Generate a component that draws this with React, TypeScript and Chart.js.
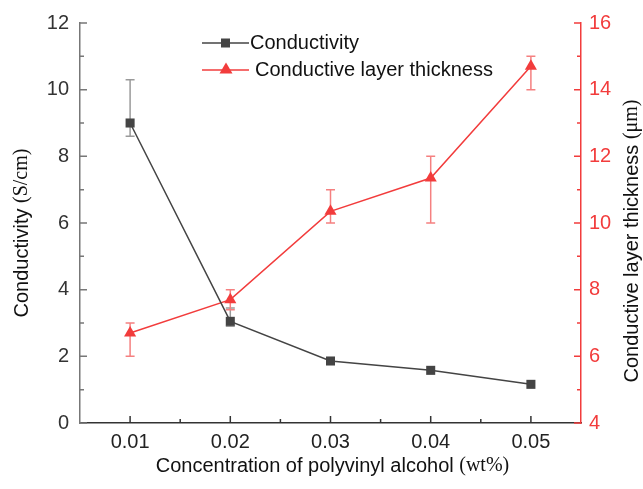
import React, { useEffect, useRef } from "react";
import { Chart, registerables } from "chart.js";

Chart.register(...registerables);

// PVA concentration (wt%)
const concentrations = [0.01, 0.02, 0.03, 0.04, 0.05];
const xTicks = [0.01, 0.02, 0.03, 0.04, 0.05];
const xMinorTicks = [0.015, 0.025, 0.035, 0.045];

// Conductivity (S/cm) with asymmetric error limits
const conductivity = [9.0, 3.05, 1.86, 1.58, 1.16];
const conductivityHigh = [10.3, 3.45, 1.86, 1.58, 1.16];
const conductivityLow = [8.6, 2.9, 1.86, 1.58, 1.16];

// Conductive layer thickness (μm) with error limits
const thickness = [6.7, 7.7, 10.35, 11.35, 14.7];
const thicknessHigh = [7.0, 8.0, 11.0, 12.0, 15.0];
const thicknessLow = [6.0, 7.4, 10.0, 10.0, 14.0];

const leftTicks = [0, 2, 4, 6, 8, 10, 12];
const leftMinor = [1, 3, 5, 7, 9, 11];
const rightTicks = [4, 6, 8, 10, 12, 14, 16];
const rightMinor = [5, 7, 9, 11, 13, 15];

const GRAY = "#444444";
const GRAY_ERR = "#9a9a9a";
const RED = "#f23c3c";
const RED_ERR = "#f58080";
const SANS = "Arial, 'Liberation Sans', sans-serif";
const SERIF = "'Times New Roman', 'Liberation Serif', serif";

type Part = { text: string; font: string };

function drawMixed(ctx: CanvasRenderingContext2D, parts: Part[], cx: number, cy: number, rot: number, color: string) {
  ctx.save();
  ctx.translate(cx, cy);
  ctx.rotate(rot);
  ctx.fillStyle = color;
  ctx.textBaseline = "middle";
  ctx.textAlign = "left";
  let total = 0;
  const widths = parts.map((p) => {
    ctx.font = p.font;
    const w = ctx.measureText(p.text).width;
    total += w;
    return w;
  });
  let x = -total / 2;
  parts.forEach((p, i) => {
    ctx.font = p.font;
    ctx.fillText(p.text, x, 0);
    x += widths[i];
  });
  ctx.restore();
}

function drawErrorBars(chart: any, xs: number[], hi: number[], lo: number[], axisId: string, color: string) {
  const ctx = chart.ctx as CanvasRenderingContext2D;
  const xScale = chart.scales.x;
  const yScale = chart.scales[axisId];
  ctx.save();
  ctx.strokeStyle = color;
  ctx.lineWidth = 1.5;
  xs.forEach((xv, i) => {
    if (hi[i] === lo[i]) return;
    const px = xScale.getPixelForValue(xv);
    const top = yScale.getPixelForValue(hi[i]);
    const bot = yScale.getPixelForValue(lo[i]);
    ctx.beginPath();
    ctx.moveTo(px, top);
    ctx.lineTo(px, bot);
    ctx.moveTo(px - 4.5, top);
    ctx.lineTo(px + 4.5, top);
    ctx.moveTo(px - 4.5, bot);
    ctx.lineTo(px + 4.5, bot);
    ctx.stroke();
  });
  ctx.restore();
}

function drawTriangle(ctx: CanvasRenderingContext2D, x: number, y: number, color: string) {
  ctx.fillStyle = color;
  ctx.beginPath();
  ctx.moveTo(x, y - 6.5);
  ctx.lineTo(x + 6.5, y + 4.5);
  ctx.lineTo(x - 6.5, y + 4.5);
  ctx.closePath();
  ctx.fill();
}

const decorations = {
  id: "decorations",
  beforeDatasetsDraw(chart: any) {
    drawErrorBars(chart, concentrations, conductivityHigh, conductivityLow, "y", GRAY_ERR);
    drawErrorBars(chart, concentrations, thicknessHigh, thicknessLow, "y1", RED_ERR);
  },
  afterDraw(chart: any) {
    const ctx = chart.ctx as CanvasRenderingContext2D;
    const { left, right, top, bottom } = chart.chartArea;
    const xs = chart.scales.x;
    const yl = chart.scales.y;
    const yr = chart.scales.y1;
    ctx.save();
    ctx.lineWidth = 1.5;

    // inward tick marks
    ctx.strokeStyle = "#333333";
    ctx.beginPath();
    xTicks.forEach((v) => {
      const p = xs.getPixelForValue(v);
      ctx.moveTo(p, bottom);
      ctx.lineTo(p, bottom - 7);
    });
    xMinorTicks.forEach((v) => {
      const p = xs.getPixelForValue(v);
      ctx.moveTo(p, bottom);
      ctx.lineTo(p, bottom - 4);
    });
    ctx.stroke();

    ctx.strokeStyle = "#777777";
    ctx.beginPath();
    leftTicks.forEach((v) => {
      const p = yl.getPixelForValue(v);
      ctx.moveTo(left, p);
      ctx.lineTo(left + 7, p);
    });
    leftMinor.forEach((v) => {
      const p = yl.getPixelForValue(v);
      ctx.moveTo(left, p);
      ctx.lineTo(left + 4, p);
    });
    ctx.stroke();

    ctx.strokeStyle = RED;
    ctx.beginPath();
    rightTicks.forEach((v) => {
      const p = yr.getPixelForValue(v);
      ctx.moveTo(right, p);
      ctx.lineTo(right - 7, p);
    });
    rightMinor.forEach((v) => {
      const p = yr.getPixelForValue(v);
      ctx.moveTo(right, p);
      ctx.lineTo(right - 4, p);
    });
    ctx.stroke();

    // legend
    const lx0 = 202;
    const lx1 = 249;
    const ly1 = 43;
    const ly2 = 70;
    ctx.strokeStyle = GRAY;
    ctx.beginPath();
    ctx.moveTo(lx0, ly1);
    ctx.lineTo(lx1, ly1);
    ctx.stroke();
    ctx.fillStyle = GRAY;
    ctx.fillRect(221, ly1 - 4.5, 9, 9);
    ctx.strokeStyle = RED;
    ctx.beginPath();
    ctx.moveTo(lx0, ly2);
    ctx.lineTo(lx1, ly2);
    ctx.stroke();
    drawTriangle(ctx, 226, ly2 - 1, RED);
    ctx.fillStyle = "#111111";
    ctx.font = `20px ${SANS}`;
    ctx.textBaseline = "middle";
    ctx.textAlign = "left";
    ctx.fillText("Conductivity", 250, ly1);
    ctx.fillText("Conductive layer thickness", 255, ly2);
    ctx.restore();

    // axis titles with serif units
    drawMixed(
      ctx,
      [
        { text: "Conductivity ", font: `20px ${SANS}` },
        { text: "(S/cm)", font: `20px ${SERIF}` },
      ],
      22,
      (top + bottom) / 2 + 10,
      -Math.PI / 2,
      "#111111"
    );
    drawMixed(
      ctx,
      [
        { text: "Conductive layer thickness ", font: `20px ${SANS}` },
        { text: "(\u03bcm)", font: `20px ${SERIF}` },
      ],
      632,
      (top + bottom) / 2 + 18,
      -Math.PI / 2,
      "#111111"
    );
    drawMixed(
      ctx,
      [
        { text: "Concentration of polyvinyl alcohol ", font: `20px ${SANS}` },
        { text: "(wt%)", font: `20px ${SERIF}` },
      ],
      (left + right) / 2 + 2,
      466,
      0,
      "#111111"
    );
  },
};

export default function App() {
  const canvasRef = useRef<HTMLCanvasElement | null>(null);

  useEffect(() => {
    if (!canvasRef.current) return;
    const chart = new Chart(canvasRef.current, {
      type: "line",
      data: {
        datasets: [
          {
            label: "Conductivity",
            data: concentrations.map((x, i) => ({ x, y: conductivity[i] })),
            yAxisID: "y",
            borderColor: GRAY,
            backgroundColor: GRAY,
            borderWidth: 1.5,
            pointStyle: "rect",
            pointRadius: 6.4,
            pointBorderWidth: 0,
            tension: 0,
          },
          {
            label: "Conductive layer thickness",
            data: concentrations.map((x, i) => ({ x, y: thickness[i] })),
            yAxisID: "y1",
            borderColor: RED,
            backgroundColor: RED,
            borderWidth: 1.5,
            pointStyle: "triangle",
            pointRadius: 7,
            pointBorderWidth: 0,
            tension: 0,
          },
        ],
      },
      options: {
        animation: false,
        responsive: true,
        maintainAspectRatio: false,
        devicePixelRatio: 1,
        layout: { padding: { top: 20, left: 0, right: 0, bottom: 0 } },
        plugins: {
          legend: { display: false },
          tooltip: { enabled: false },
        },
        scales: {
          x: {
            type: "linear",
            min: 0.005,
            max: 0.055,
            afterBuildTicks: (scale: any) => {
              scale.ticks = xTicks.map((v) => ({ value: v }));
            },
            afterFit: (scale: any) => {
              scale.height = 66;
            },
            grid: { display: false, drawTicks: false },
            border: { display: true, color: "#333333", width: 1.5 },
            ticks: {
              color: "#222222",
              font: { family: SANS, size: 20 },
              padding: 7,
              maxRotation: 0,
              callback: (v: any) => Number(v).toFixed(2),
            },
          },
          y: {
            type: "linear",
            position: "left",
            min: 0,
            max: 12,
            afterBuildTicks: (scale: any) => {
              scale.ticks = leftTicks.map((v) => ({ value: v }));
            },
            afterFit: (scale: any) => {
              scale.width = 80;
            },
            grid: { display: false, drawTicks: false },
            border: { display: true, color: "#777777", width: 1.5 },
            ticks: {
              color: "#333333",
              font: { family: SANS, size: 20 },
              padding: 11,
            },
          },
          y1: {
            type: "linear",
            position: "right",
            min: 4,
            max: 16,
            afterBuildTicks: (scale: any) => {
              scale.ticks = rightTicks.map((v) => ({ value: v }));
            },
            afterFit: (scale: any) => {
              scale.width = 62;
            },
            grid: { display: false, drawTicks: false },
            border: { display: true, color: RED, width: 1.5 },
            ticks: {
              color: RED,
              font: { family: SANS, size: 20 },
              padding: 8,
            },
          },
        },
      },
      plugins: [decorations],
    });
    return () => chart.destroy();
  }, []);

  return (
    <div style={{ position: "absolute", left: 0, top: 0, width: 643, height: 489, background: "#ffffff" }}>
      <canvas ref={canvasRef} />
    </div>
  );
}
